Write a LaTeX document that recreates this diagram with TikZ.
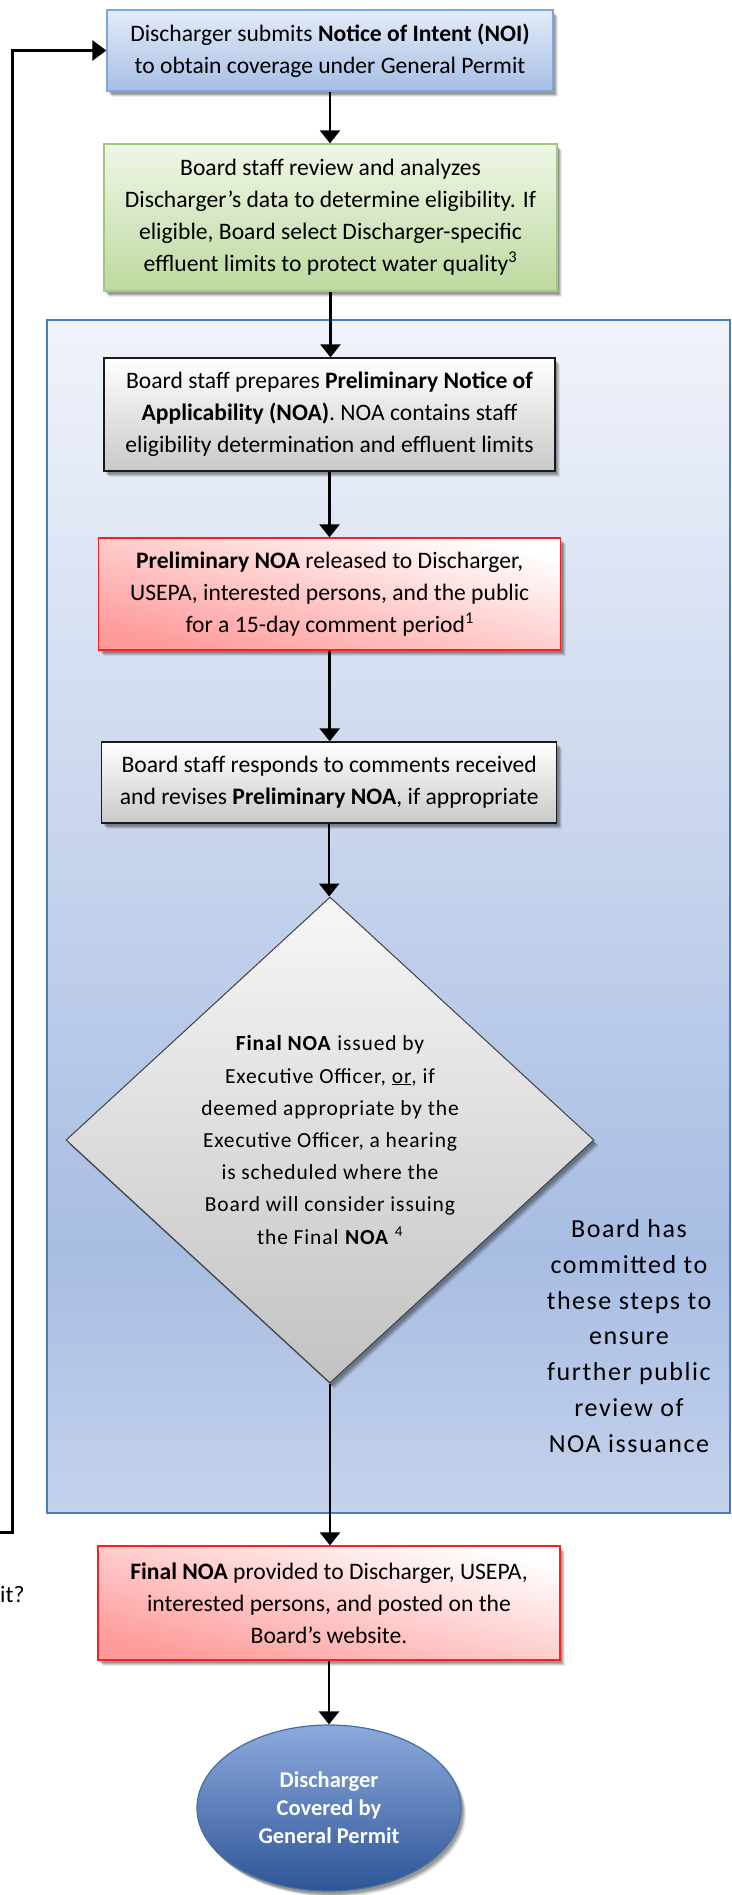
\documentclass[tikz,border=0pt]{standalone}
\usepackage{fontspec}
\setmainfont{Carlito}
\newfontfamily\spacedfont[LetterSpace=4]{Carlito}
\newfontfamily\panelfont[LetterSpace=6]{Carlito}
\usetikzlibrary{arrows.meta,shapes.geometric,shadows}

\definecolor{bluetop}{HTML}{E4ECF8}
\definecolor{bluebot}{HTML}{A6BEE5}
\definecolor{blueline}{HTML}{7FA6DB}
\definecolor{greentop}{HTML}{EFF6E7}
\definecolor{greenbot}{HTML}{BDD99F}
\definecolor{greenline}{HTML}{A2C87E}
\definecolor{graybot}{HTML}{C9C9C9}
\definecolor{grayline}{HTML}{1A1A1A}
\definecolor{redbot}{HTML}{FF9A9A}
\definecolor{redline}{HTML}{FF1E1E}
\definecolor{dmdtop}{HTML}{F7F7F7}
\definecolor{dmdbot}{HTML}{C2C2C2}
\definecolor{dmdline}{HTML}{404040}
\definecolor{pnltop}{HTML}{F0F3FA}
\definecolor{pnlmid}{HTML}{A8BDE3}
\definecolor{pnlbot}{HTML}{C4D2EC}
\definecolor{pnlline}{HTML}{4A7DB8}
\definecolor{elltop}{HTML}{8DAADD}
\definecolor{ellbot}{HTML}{2E5597}
\definecolor{ellline}{HTML}{41719C}

\pgfdeclareverticalshading{panelshade}{100bp}{color(0bp)=(pnlbot); color(25bp)=(pnlbot); color(36bp)=(pnlmid); color(75bp)=(pnltop); color(100bp)=(pnltop)}

\newcommand\bxfont{\fontsize{23.6}{32}\selectfont}

\begin{document}
\begin{tikzpicture}[x=1pt,y=-1pt,
  shadowed/.style={
    drop shadow={shadow xshift=5pt, shadow yshift=-6pt, opacity=0.08, fill=black},
    drop shadow={shadow xshift=4pt, shadow yshift=-5pt, opacity=0.12, fill=black},
    drop shadow={shadow xshift=3pt, shadow yshift=-4pt, opacity=0.14, fill=black},
    drop shadow={shadow xshift=2pt, shadow yshift=-3pt, opacity=0.14, fill=black}},
  boxbase/.style={shadowed, align=center, inner sep=0pt, font=\bxfont, line width=1.3pt},
  bluebox/.style={boxbase, draw=blueline, top color=bluetop, bottom color=bluebot},
  greenbox/.style={boxbase, draw=greenline, top color=greentop, bottom color=greenbot},
  graybox/.style={boxbase, draw=grayline, top color=white, bottom color=graybot},
  redbox/.style={boxbase, draw=redline, top color=white, bottom color=redbot, shading angle=-14},
  decision/.style={shadowed, diamond, draw=dmdline, line width=1pt, top color=dmdtop, bottom color=dmdbot,
    inner sep=0pt, align=center, font=\spacedfont\fontsize{21.5}{32.2}\selectfont},
  panelbox/.style={draw=pnlline, line width=2pt, shade, shading=panelshade, inner sep=0pt},
  paneltext/.style={align=center, inner sep=0pt, font=\panelfont\fontsize{26}{35.8}\selectfont},
  terminal/.style={shadowed, ellipse, draw=ellline, line width=1.2pt, top color=elltop, bottom color=ellbot,
    inner sep=0pt, align=center, text=white, font=\bfseries\fontsize{22.5}{28}\selectfont},
  arr/.style={line width=2.5pt, -{Triangle[length=13pt,width=20pt]}},
  fbline/.style={line width=3pt, -{Triangle[length=14pt,width=20pt]}}
]
\useasboundingbox[fill=white] (0,0) rectangle (731,1895);

% background panel
\node[panelbox, minimum width=682.8pt, minimum height=1193pt] (panel) at (388.1,916.5) {};
\node[paneltext] (note) at (629,1336) {Board has\\committed to\\these steps to\\ensure\\further public\\review of\\NOA issuance};

% boxes
\node[bluebox, minimum width=446pt, minimum height=81pt] (b1) at (330,50.5)
  {Discharger submits \textbf{Notice of Intent (NOI)}\\to obtain coverage under General Permit};
\node[greenbox, minimum width=453pt, minimum height=147pt] (b2) at (330.5,217.5)
  {Board staff review and analyzes\\Discharger’s data to determine eligibility. If\\eligible, Board select Discharger-specific\\effluent limits to protect water quality\textsuperscript{3}};
\node[graybox, minimum width=451pt, minimum height=113pt] (b3) at (329.5,414.5)
  {Board staff prepares \textbf{Preliminary Notice of}\\\textbf{Applicability (NOA)}. NOA contains staff\\eligibility determination and effluent limits};
\node[redbox, minimum width=462pt, minimum height=112pt] (b4) at (329.7,594)
  {\textbf{Preliminary NOA} released to Discharger,\\USEPA, interested persons, and the public\\for a 15-day comment period\textsuperscript{1}};
\node[graybox, minimum width=455pt, minimum height=81pt] (b5) at (329.2,782.5)
  {Board staff responds to comments received\\and revises \textbf{Preliminary NOA}, if appropriate};
\node[decision, minimum width=528pt, minimum height=486pt] (dec) at (330,1140)
  {\textbf{Final NOA} issued by\\Executive Officer, \underline{or}, if\\deemed appropriate by the\\Executive Officer, a hearing\\is scheduled where the\\Board will consider issuing\\the Final \textbf{NOA} \textsuperscript{4}};
\node[redbox, minimum width=462pt, minimum height=114pt] (b6) at (329,1603)
  {\textbf{Final NOA} provided to Discharger, USEPA,\\interested persons, and posted on the\\Board’s website.};
\node[terminal, minimum width=264pt, minimum height=166pt] (end) at (329,1808)
  {Discharger\\Covered by\\General Permit};

\node[anchor=base west, inner sep=0pt, font=\bxfont] (itq) at (0,1602) {it?};

% connectors
\draw[arr] (b1.south) -- (b1.south |- b2.north);
\draw[arr] (b2.south) -- (b2.south |- b3.north);
\draw[arr] (b3.south) -- (b3.south |- b4.north);
\draw[arr] (b4.south) -- (b4.south |- b5.north);
\draw[arr] (b5.south) -- (b5.south |- dec.north);
\draw[arr] (dec.south) -- (dec.south |- b6.north);
\draw[arr] (b6.south) -- (b6.south |- end.north);

\coordinate (fb0) at (0,1532);
\coordinate (fb1) at (12,1532);
\draw[fbline] (fb0) -- (fb1) |- (b1.west);
\end{tikzpicture}
\end{document}
